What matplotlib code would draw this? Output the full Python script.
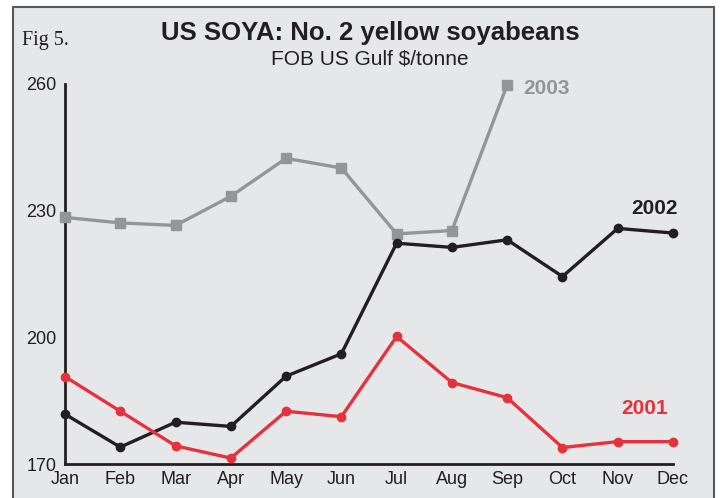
import numpy as np
import matplotlib.pyplot as plt
from matplotlib.patches import Rectangle

months = ['Jan', 'Feb', 'Mar', 'Apr', 'May', 'Jun', 'Jul', 'Aug', 'Sep', 'Oct', 'Nov', 'Dec']
y2001 = [190.7, 182.5, 174.3, 171.4, 182.5, 181.2, 200.2, 189.3, 185.7, 173.9, 175.3, 175.3]
y2002 = [181.8, 174.0, 179.9, 178.9, 190.8, 196.1, 222.3, 221.3, 223.1, 214.4, 225.8, 224.7]
y2003 = [228.4, 227.1, 226.5, 233.4, 242.4, 240.1, 224.5, 225.3, 259.8]
yticks = [170, 200, 230, 260]

RED = '#e6323c'
GREY = '#939598'
BLACK = '#231f20'
BG = '#e6e7e9'

plt.rcParams['font.family'] = ['Liberation Sans', 'DejaVu Sans']

fig = plt.figure(figsize=(7.2, 4.98), dpi=100)
fig.patch.set_facecolor('white')

# grey panel with border, behind everything
panel = Rectangle((13 / 720, -0.01), (714 - 13) / 720, 1 - 7 / 498 + 0.01,
                  transform=fig.transFigure, facecolor=BG, edgecolor='#58595b',
                  linewidth=1.5, zorder=-10)
fig.add_artist(panel)

ax = fig.add_axes([65 / 720, 1 - 464 / 498, (673 - 65) / 720, (464 - 84) / 498])
ax.set_facecolor('none')
ax.set_zorder(5)

x = np.arange(len(months))
ax.plot(x[:len(y2003)], y2003, color=GREY, lw=2.4, marker='s', ms=7, clip_on=False, zorder=3)
ax.plot(x, y2002, color=BLACK, lw=2.4, marker='o', ms=6, clip_on=False, zorder=4)
ax.plot(x, y2001, color=RED, lw=2.4, marker='o', ms=6, clip_on=False, zorder=5)

ax.set_xlim(0, 11)
ax.set_ylim(170, 260)
ax.set_xticks(x)
ax.set_xticklabels(months, fontsize=13)
ax.set_yticks(yticks)
ax.set_yticklabels([str(v) for v in yticks], fontsize=13)
ax.tick_params(length=0, pad=5, colors=BLACK)
ax.tick_params(axis='y', pad=6)
for s in ['top', 'right']:
    ax.spines[s].set_visible(False)
for s in ['left', 'bottom']:
    ax.spines[s].set_color(BLACK)
    ax.spines[s].set_linewidth(2)

ax.text(8.29, 259, '2003', color=GREY, fontsize=15, fontweight='bold', va='center', ha='left')
ax.text(10.67, 230.5, '2002', color=BLACK, fontsize=15, fontweight='bold', va='center', ha='center')
ax.text(10.49, 183.2, '2001', color=RED, fontsize=15, fontweight='bold', va='center', ha='center')

fig.text(370 / 720, 1 - 33 / 498, 'US SOYA: No. 2 yellow soyabeans', ha='center', va='center',
         fontsize=18.5, fontweight='bold', color=BLACK)
fig.text(370 / 720, 1 - 59 / 498, 'FOB US Gulf $/tonne', ha='center', va='center',
         fontsize=15, color=BLACK)
fig.text(22 / 720, 1 - 40 / 498, 'Fig 5.', ha='left', va='center', fontsize=14.5,
         color=BLACK, family=['Liberation Serif', 'DejaVu Serif'])

fig.savefig('out.png', dpi=100)
